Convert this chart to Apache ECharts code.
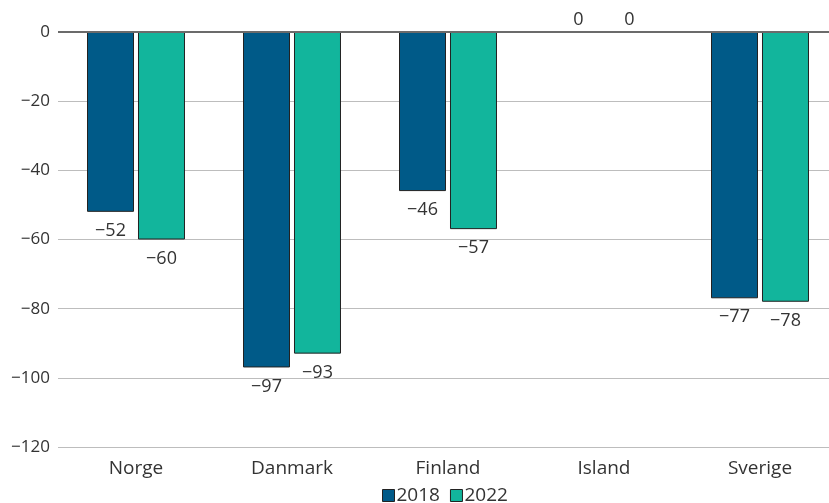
<!DOCTYPE html>
<html>
<head>
<meta charset="utf-8">
<script src="https://cdn.jsdelivr.net/npm/echarts@6/dist/echarts.min.js"></script>
<style>
  html, body { margin: 0; padding: 0; background: #fff; }
  #chart { width: 829px; height: 503px; }
</style>
</head>
<body>
<div id="chart"></div>
<script>
// Country categories and yearly values
const categories = ['Norge', 'Danmark', 'Finland', 'Island', 'Sverige'];
const values2018 = [-52, -97, -46, 0, -77];
const values2022 = [-60, -93, -57, 0, -78];
const yTicks = { min: -120, max: 0, interval: 20 };

const fontFamily = '"Open Sans", "Noto Sans", sans-serif';
const textColor = '#333333';
const minus = v => String(v).replace('-', '\u2212');

// Zero-valued bars get their label above the baseline, others below the bar end
function toItems(values) {
  return values.map(v => ({
    value: v,
    label: { position: v < 0 ? 'bottom' : 'top', distance: v < 0 ? 10 : 3 }
  }));
}

function barSeries(name, values, color) {
  return {
    name: name,
    type: 'bar',
    data: toItems(values),
    barWidth: 47,
    barGap: '8.5%',
    itemStyle: { color: color, borderColor: '#222', borderWidth: 1 },
    label: {
      show: true,
      fontSize: 18,
      fontFamily: fontFamily,
      color: textColor,
      formatter: p => minus(p.value)
    }
  };
}

const chart = echarts.init(document.getElementById('chart'));
chart.setOption({
  animation: false,
  grid: { left: 58, width: 780, top: 32, bottom: 56, outerBoundsMode: 'none', containLabel: false },
  legend: {
    top: 481,
    left: 377,
    itemWidth: 12,
    itemHeight: 12,
    itemGap: 10,
    icon: 'rect',
    textStyle: { fontSize: 19, fontFamily: fontFamily, color: textColor, padding: [0, 0, 0, -3] },
    itemStyle: { borderColor: '#222', borderWidth: 1 }
  },
  xAxis: {
    type: 'category',
    data: categories,
    position: 'bottom',
    axisLine: { show: false },
    axisTick: { show: false },
    axisLabel: { fontSize: 19, fontFamily: fontFamily, color: textColor, margin: 12 }
  },
  yAxis: {
    type: 'value',
    min: yTicks.min,
    max: yTicks.max,
    interval: yTicks.interval,
    axisLine: { show: false },
    axisTick: { show: false },
    axisLabel: {
      fontSize: 17, fontFamily: fontFamily, color: textColor, margin: 8,
      formatter: v => minus(v)
    },
    splitLine: { lineStyle: { color: '#bdbdbd', width: 1 } }
  },
  series: [
    barSeries('2018', values2018, '#005a88'),
    barSeries('2022', values2022, '#12b59c'),
    {
      // Emphasized zero baseline
      type: 'line',
      data: [],
      silent: true,
      markLine: {
        symbol: 'none',
        silent: true,
        label: { show: false },
        lineStyle: { color: '#6b6b6b', width: 2, type: 'solid' },
        data: [{ yAxis: 0 }]
      }
    }
  ]
});
</script>
</body>
</html>
